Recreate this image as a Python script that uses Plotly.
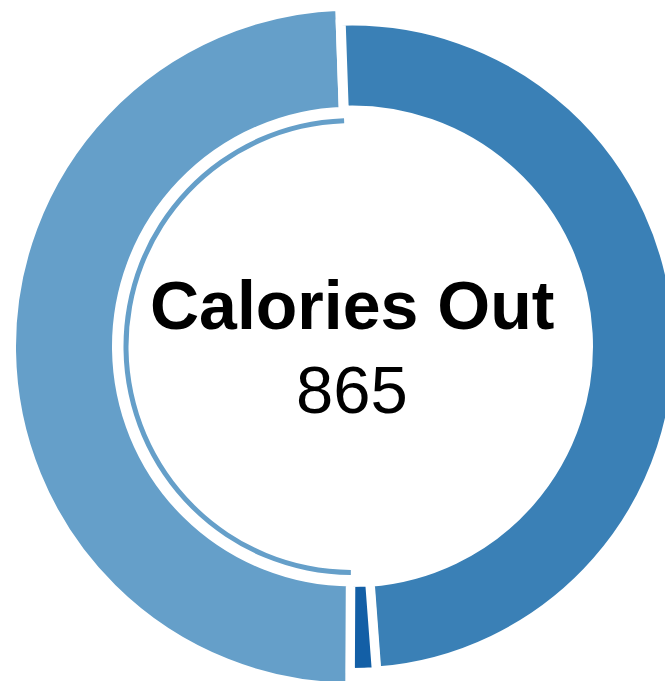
import plotly.graph_objects as go

# Data
labels = ["Active", "Other", "Resting"]
values = [427, 11, 427]
title_text = "Calories Out"
total_text = "865"

# Colours
c_left = "#659fc9"
c_right = "#3a80b6"
c_dark = "#135fa6"
clear = "rgba(0,0,0,0)"

W, H = 700, 700
cx, cy = 352, 346.5  # centre in pixels (from top-left)


def dom(R):
    return dict(x=[(cx - R) / W, (cx + R) / W],
                y=[1 - (cy + R) / H, 1 - (cy - R) / H])


common = dict(labels=labels, values=values, sort=False, direction="clockwise",
              rotation=-2, textinfo="none", hoverinfo="label+value",
              showlegend=False)

fig = go.Figure()
# Outer (thicker) resting ring on the left
fig.add_trace(go.Pie(**common, domain=dom(341), hole=235 / 341,
                     marker=dict(colors=[clear, clear, c_left],
                                 line=dict(color="white", width=[0, 0, 10]))))
# Right ring: active + other
fig.add_trace(go.Pie(**common, domain=dom(326), hole=236 / 326,
                     marker=dict(colors=[c_right, c_dark, clear],
                                 line=dict(color="white", width=[10, 9, 0]))))
# Thin inner arc
fig.add_trace(go.Pie(**common, domain=dom(228.5), hole=223.5 / 228.5,
                     marker=dict(colors=[clear, clear, c_left],
                                 line=dict(color="white", width=0))))

fig.add_annotation(x=cx / W, y=1 - 305 / H, xref="paper", yref="paper",
                   text="<b>" + title_text + "</b>", showarrow=False,
                   font=dict(family="Liberation Sans, Arial", size=68, color="black"))
fig.add_annotation(x=cx / W, y=1 - 389.5 / H, xref="paper", yref="paper",
                   text=total_text, showarrow=False,
                   font=dict(family="Liberation Sans, Arial", size=67, color="black"))

fig.update_layout(width=W, height=H, margin=dict(l=0, r=0, t=0, b=0),
                  paper_bgcolor="white", plot_bgcolor="white")

fig.write_html("out.html", config={"displayModeBar": False},
               post_script="document.body.style.margin='0';document.body.style.overflow='hidden';")
